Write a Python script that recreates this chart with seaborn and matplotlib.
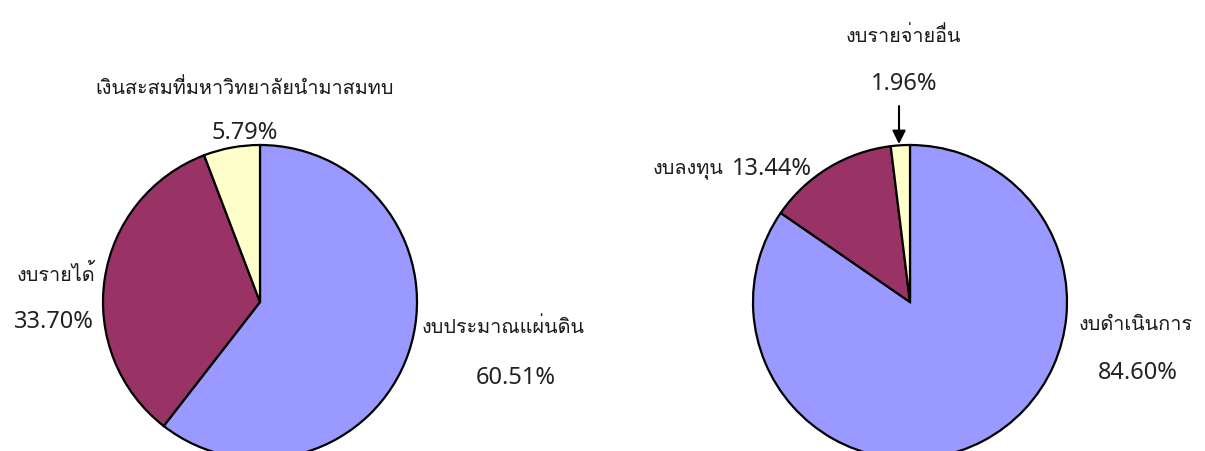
import matplotlib
matplotlib.use("Agg")
import matplotlib.pyplot as plt
from matplotlib import font_manager
import seaborn as sns

# ข้อมูล
left_labels = ['งบประมาณแผ่นดิน', 'งบรายได้', 'เงินสะสมที่มหาวิทยาลัยนำมาสมทบ']
left_values = [60.51, 33.70, 5.79]
right_labels = ['งบดำเนินการ', 'งบลงทุน', 'งบรายจ่ายอื่น']
right_values = [84.60, 13.44, 1.96]
slice_colors = ['#9999FF', '#993366', '#FFFFCC']

sns.set_theme(style='white')

# หา font ที่มีอักษรไทย
thai_font = None
try:
    from fontTools.ttLib import TTFont
    for f in font_manager.fontManager.ttflist:
        try:
            cmap = TTFont(f.fname, fontNumber=0, lazy=True).getBestCmap()
        except Exception:
            continue
        if cmap and 0x0E07 in cmap and 0x0E1A in cmap:
            thai_font = f.name
            break
except Exception:
    pass
plt.rcParams['font.family'] = ([thai_font] if thai_font else []) + ['DejaVu Sans']

thai_fam = ([thai_font] if thai_font else []) + ['DejaVu Sans']
num_fam = ['Noto Sans', 'DejaVu Sans']
fs_th = 14.3
fs_num = 17

W, H = 1205, 452
R = 157
fig = plt.figure(figsize=(W / 100, H / 100), dpi=100)


def make_ax(cx, cy):
    ax = fig.add_axes([(cx - R) / W, (H - cy - R) / H, 2 * R / W, 2 * R / H])
    return ax


def th(ax, x, y, s, ha='center'):
    ax.text(x, y, s, ha=ha, va='center', fontsize=fs_th, family=thai_fam, color='#1a1a1a')


def num(ax, x, y, v, ha='center'):
    ax.text(x, y, f'{v:.2f}%', ha=ha, va='center', fontsize=fs_num, family=num_fam, color='#222222')


wp = dict(edgecolor='black', linewidth=1.6)

ax1 = make_ax(260, 303)
ax1.pie(left_values, colors=slice_colors, startangle=90, counterclock=False,
        radius=1, wedgeprops=wp)
ax1.set_xlim(-1, 1); ax1.set_ylim(-1, 1)
ax1.axis('off')
th(ax1, -0.096, 1.37, left_labels[2])
num(ax1, -0.096, 1.085, left_values[2])
th(ax1, -1.30, 0.185, left_labels[1])
num(ax1, -1.31, -0.121, left_values[1])
th(ax1, 1.03, -0.153, left_labels[0], ha='left')
num(ax1, 1.63, -0.478, left_values[0])

ax2 = make_ax(910, 303)
ax2.pie(right_values, colors=slice_colors, startangle=90, counterclock=False,
        radius=1, wedgeprops=wp)
ax2.set_xlim(-1, 1); ax2.set_ylim(-1, 1)
ax2.axis('off')
th(ax2, -0.045, 1.70, right_labels[2])
num(ax2, -0.035, 1.395, right_values[2])
ax2.annotate('', xy=(-0.07, 1.006), xytext=(-0.07, 1.248), annotation_clip=False,
             arrowprops=dict(arrowstyle='-|>', color='black', lw=1.5, mutation_scale=20,
                             shrinkA=0, shrinkB=0))
th(ax2, -1.19, 0.853, right_labels[1], ha='right')
num(ax2, -1.134, 0.853, right_values[1], ha='left')
th(ax2, 1.44, -0.14, right_labels[0])
num(ax2, 1.45, -0.446, right_values[0])

fig.savefig('out.png', dpi=100, facecolor='white')
